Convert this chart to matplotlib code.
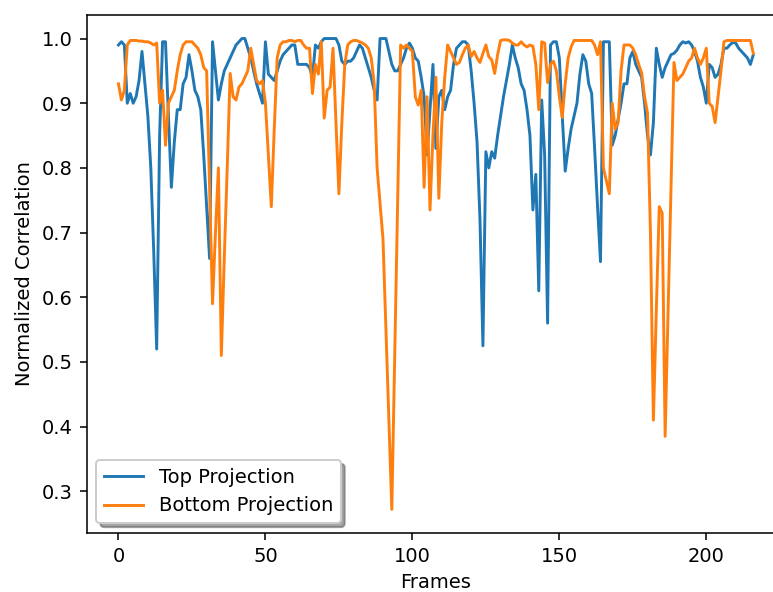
import numpy as np
import matplotlib
matplotlib.use("Agg")
import matplotlib.pyplot as plt

# correlation per frame
top_corr = [
    0.99, 0.995, 0.99, 0.90, 0.915, 0.90, 0.91, 0.935, 0.98, 0.93,
    0.88, 0.80, 0.67, 0.52, 0.85, 0.995, 0.995, 0.88, 0.77, 0.84,
    0.89, 0.89, 0.93, 0.94, 0.975, 0.95, 0.92, 0.91, 0.89, 0.82,
    0.74, 0.66, 0.995, 0.95, 0.905, 0.93, 0.95, 0.96, 0.97, 0.98,
    0.99, 0.995, 1.0, 1.0, 0.985, 0.97, 0.95, 0.93, 0.915, 0.90, 0.995,
    0.945, 0.94, 0.935, 0.95, 0.965, 0.975, 0.98, 0.985, 0.99, 0.99,
    0.96, 0.96, 0.96, 0.96, 0.955, 0.94, 0.99, 0.985, 0.995, 1.0,
    1.0, 1.0, 1.0, 1.0, 0.99, 0.965, 0.96, 0.965, 0.965, 0.97,
    0.98, 0.99, 0.985, 0.97, 0.955, 0.94, 0.92, 0.905, 1.0, 1.0,
    1.0, 0.98, 0.96, 0.95, 0.95, 0.96, 0.97, 0.985, 0.993, 0.985,
    0.97, 0.965, 0.94, 0.91, 0.82, 0.89, 0.96, 0.83, 0.91, 0.92,
    0.89, 0.91, 0.92, 0.96, 0.985, 0.99, 0.995, 0.995, 0.99, 0.95, 0.90,
    0.84, 0.72, 0.525, 0.825, 0.80, 0.825, 0.815, 0.85, 0.88, 0.91,
    0.935, 0.96, 0.99, 0.97, 0.955, 0.93, 0.92, 0.89, 0.85, 0.735,
    0.79, 0.61, 0.905, 0.82, 0.56, 0.99, 0.995, 0.995, 0.97, 0.88,
    0.795, 0.83, 0.86, 0.88, 0.90, 0.945, 0.975, 0.965, 0.93, 0.915,
    0.83, 0.74, 0.655, 0.995, 0.995, 0.995, 0.835, 0.85, 0.875, 0.90,
    0.93, 0.93, 0.97, 0.98, 0.96, 0.95, 0.94, 0.90, 0.85, 0.82,
    0.87, 0.985, 0.96, 0.94, 0.955, 0.965, 0.975, 0.977, 0.982, 0.99,
    0.995, 0.993, 0.995, 0.99, 0.98, 0.965, 0.94, 0.925, 0.90, 0.96, 0.955,
    0.94, 0.945, 0.96, 0.985, 0.985, 0.99, 0.994, 0.993, 0.985, 0.98,
    0.975, 0.97, 0.96, 0.975,
]

bottom_corr = [
    0.93, 0.905, 0.92, 0.99, 0.997, 0.997, 0.997, 0.996, 0.996, 0.995,
    0.995, 0.993, 0.99, 0.993, 0.90, 0.92, 0.835, 0.90, 0.91, 0.92,
    0.95, 0.975, 0.99, 0.995, 0.995, 0.995, 0.99, 0.985, 0.975, 0.955,
    0.95, 0.77, 0.59, 0.70, 0.80, 0.51, 0.66, 0.80, 0.946, 0.91,
    0.905, 0.925, 0.93, 0.94, 0.95, 0.985, 0.96, 0.935, 0.93, 0.935, 0.90,
    0.82, 0.74, 0.86, 0.97, 0.99, 0.995, 0.995, 0.997, 0.997, 0.995,
    0.997, 0.997, 0.99, 0.985, 0.985, 0.915, 0.96, 0.945, 0.995, 0.877,
    0.92, 0.925, 0.985, 0.87, 0.76, 0.87, 0.96, 0.99, 0.995, 0.997,
    0.997, 0.995, 0.993, 0.99, 0.985, 0.97, 0.93, 0.80, 0.745, 0.69,
    0.55, 0.41, 0.272, 0.51, 0.75, 0.99, 0.985, 0.99, 0.985, 0.98,
    0.91, 0.897, 0.92, 0.77, 0.91, 0.735, 0.85, 0.94, 0.753, 0.87,
    0.94, 0.99, 0.98, 0.97, 0.96, 0.963, 0.975, 0.985, 0.99, 0.972, 0.98,
    0.97, 0.963, 0.977, 0.99, 0.972, 0.967, 0.946, 0.975, 0.997, 0.998,
    0.998, 0.997, 0.993, 0.99, 0.99, 0.995, 0.99, 0.987, 0.99, 0.988,
    0.96, 0.89, 0.995, 0.993, 0.932, 0.96, 0.965, 0.95, 0.91, 0.878,
    0.93, 0.97, 0.987, 0.997, 0.997, 0.997, 0.997, 0.997, 0.997, 0.997,
    0.99, 0.975, 0.995, 0.80, 0.78, 0.76, 0.90, 0.86, 0.87, 0.95,
    0.99, 0.99, 0.99, 0.985, 0.975, 0.96, 0.947, 0.91, 0.885, 0.70,
    0.41, 0.58, 0.74, 0.73, 0.385, 0.58, 0.77, 0.963, 0.935, 0.94,
    0.945, 0.955, 0.965, 0.97, 0.985, 0.97, 0.96, 0.97, 0.985, 0.90, 0.895,
    0.87, 0.91, 0.95, 0.995, 0.997, 0.997, 0.997, 0.997, 0.997, 0.997,
    0.997, 0.997, 0.997, 0.977,
]

dpi = 140
fig = plt.figure(figsize=(773 / dpi, 592 / dpi), dpi=dpi)
# axes run past the right edge, the reference is cut there
ax = fig.add_axes([0.1122, 0.0997, 0.9034, 0.875])

ax.plot(top_corr, label="Top Projection")
ax.plot(bottom_corr, label="Bottom Projection")
ax.set_xlabel("Frames")
ax.set_ylabel("Normalized Correlation")
ax.legend(loc="lower left", shadow=True)

fig.savefig("out.png", dpi=dpi)
